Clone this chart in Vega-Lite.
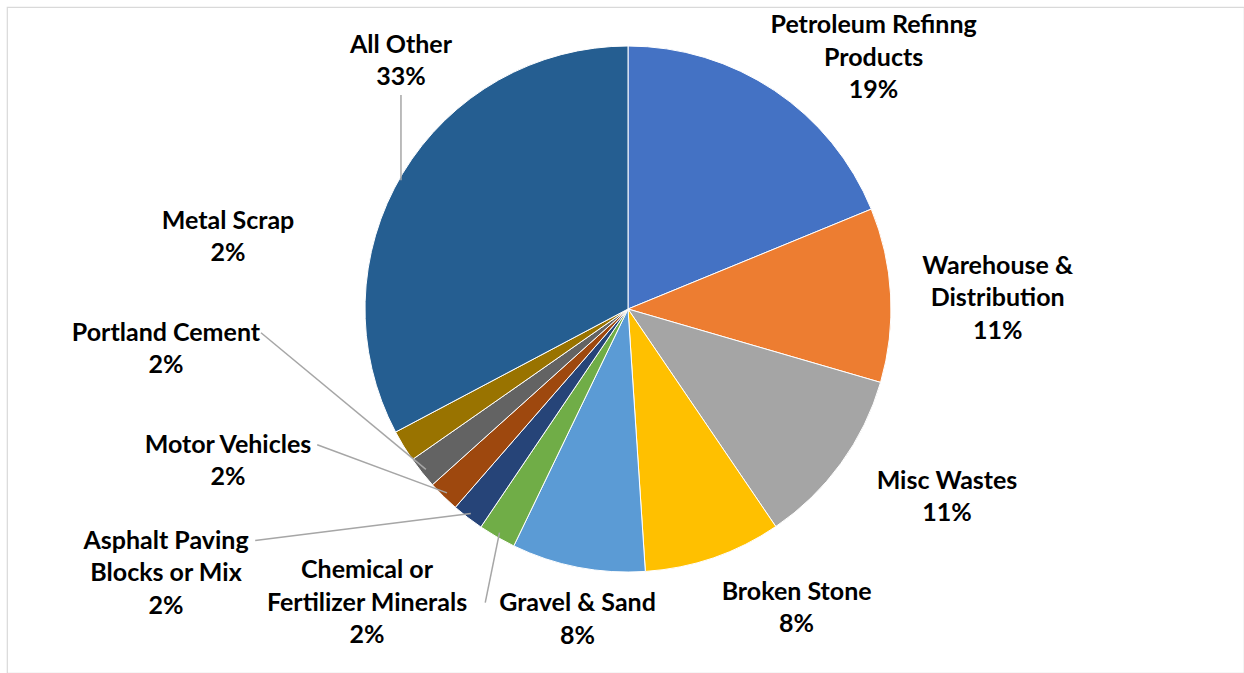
{
  "$schema": "https://vega.github.io/schema/vega-lite/v6.json",
  "width": 1244,
  "height": 673,
  "autosize": {"type": "fit", "contains": "padding"},
  "padding": {"left": 7, "top": 7, "right": 0, "bottom": 0},
  "background": "white",
  "config": {"view": {"stroke": "#d9d9d9", "strokeWidth": 1.2}, "font": "Lato"},
  "data": {
    "values": [
      {"order": 1, "category": "Petroleum Refinng Products", "lines": "Petroleum Refinng|Products", "value": 18.8},
      {"order": 2, "category": "Warehouse & Distribution", "lines": "Warehouse &|Distribution", "value": 10.7},
      {"order": 3, "category": "Misc Wastes", "lines": "Misc Wastes", "value": 11.0},
      {"order": 4, "category": "Broken Stone", "lines": "Broken Stone", "value": 8.45},
      {"order": 5, "category": "Gravel & Sand", "lines": "Gravel & Sand", "value": 8.2},
      {"order": 6, "category": "Chemical or Fertilizer Minerals", "lines": "Chemical or|Fertilizer Minerals", "value": 2.3},
      {"order": 7, "category": "Asphalt Paving Blocks or Mix", "lines": "Asphalt Paving|Blocks or Mix", "value": 1.95},
      {"order": 8, "category": "Motor Vehicles", "lines": "Motor Vehicles", "value": 1.95},
      {"order": 9, "category": "Portland Cement", "lines": "Portland Cement", "value": 1.95},
      {"order": 10, "category": "Metal Scrap", "lines": "Metal Scrap", "value": 1.95},
      {"order": 11, "category": "All Other", "lines": "All Other", "value": 32.75}
    ]
  },
  "transform": [
    {"joinaggregate": [{"op": "sum", "field": "value", "as": "total"}]},
    {"stack": "value", "groupby": [], "sort": [{"field": "order", "order": "ascending"}], "as": ["v0", "v1"]},
    {"calculate": "PI*(datum.v0+datum.v1)/datum.total", "as": "mid"},
    {"calculate": "split(datum.lines + '|' + format(datum.value/datum.total, '.0%'), '|')", "as": "txt"},
    {"calculate": "split(datum.lines, '|')", "as": "nl"},
    {"calculate": "length(datum.nl)", "as": "nn"},
    {"calculate": "datum.value/datum.total < 0.05", "as": "small"},
    {"calculate": "sin(datum.mid)", "as": "s"},
    {"calculate": "cos(datum.mid)", "as": "c"}
  ],
  "encoding": {
    "x": {"type": "quantitative", "scale": {"domain": [-621, 616]}, "axis": null},
    "y": {"type": "quantitative", "scale": {"domain": [-364, 302]}, "axis": null}
  },
  "layer": [
    {
      "mark": {"type": "arc", "outerRadius": 263, "stroke": "white", "strokeWidth": 1},
      "encoding": {
        "x": {"datum": 0, "type": "quantitative", "scale": {"domain": [-621, 616]}, "axis": null},
        "y": {"datum": 0, "type": "quantitative", "scale": {"domain": [-364, 302]}, "axis": null},
        "theta": {"field": "value", "type": "quantitative", "stack": true},
        "order": {"field": "order", "type": "quantitative"},
        "color": {
          "field": "category",
          "type": "nominal",
          "legend": null,
          "scale": {
            "domain": ["Petroleum Refinng Products", "Warehouse & Distribution", "Misc Wastes", "Broken Stone", "Gravel & Sand", "Chemical or Fertilizer Minerals", "Asphalt Paving Blocks or Mix", "Motor Vehicles", "Portland Cement", "Metal Scrap", "All Other"],
            "range": ["#4472C4", "#ED7D31", "#A5A5A5", "#FFC000", "#5B9BD5", "#70AD47", "#264478", "#9E480E", "#636363", "#997300", "#255E91"]
          }
        }
      }
    },
    {
      "transform": [
        {"filter": "datum.small"},
        {"window": [{"op": "row_number", "as": "rk"}], "sort": [{"field": "order", "order": "ascending"}]},
        {"filter": "datum.rk < 5"},
        {"calculate": "datum.nn>1 && length(datum.nl[1])>length(datum.nl[0]) ? 1 : 0", "as": "wi"},
        {"calculate": "max(length(datum.nl[0]), datum.nn>1 ? length(datum.nl[1]) : 0)*5.8", "as": "hw"},
        {"calculate": "datum.rk==1 ? 390*sin(222*PI/180) : -431 - (datum.rk%2==0 ? 31 : -31)", "as": "cx"},
        {"calculate": "datum.rk==1 ? 395*cos(222*PI/180) : -264 + 112*(datum.rk-2)", "as": "cy"},
        {"calculate": "datum.cx + datum.hw + 8", "as": "lxe"},
        {"calculate": "datum.cy + (datum.nn/2 - datum.wi)*32.5", "as": "wy"},
        {"calculate": "258*datum.s", "as": "ex"},
        {"calculate": "258*datum.c", "as": "ey"}
      ],
      "mark": {"type": "rule", "color": "#a6a6a6", "strokeWidth": 1.5},
      "encoding": {
        "x": {"field": "ex", "type": "quantitative"},
        "y": {"field": "ey", "type": "quantitative"},
        "x2": {"field": "lxe"},
        "y2": {"field": "wy"}
      }
    },
    {
      "transform": [
        {"filter": "!datum.small && datum.s < 0 && datum.c > 0"},
        {"calculate": "265*datum.s", "as": "lx"},
        {"calculate": "310*pow(datum.c,0.3) - 6 - datum.nn*16.25 - 18", "as": "ly"},
        {"calculate": "sqrt(261*261 - datum.lx*datum.lx)", "as": "ly2"}
      ],
      "mark": {"type": "rule", "color": "#a6a6a6", "strokeWidth": 1.5},
      "encoding": {
        "x": {"field": "lx", "type": "quantitative"},
        "y": {"field": "ly", "type": "quantitative"},
        "y2": {"field": "ly2"}
      }
    },
    {
      "transform": [
        {"filter": "!datum.small"},
        {"calculate": "datum.s >= 0 ? 370*pow(datum.s,0.7) : 265*datum.s", "as": "lx"},
        {"calculate": "(datum.s < 0 && datum.c > 0 ? 310*pow(datum.c,0.3) : 310*datum.c) - 6 + datum.nn*16.25", "as": "ly"}
      ],
      "mark": {"type": "text", "font": "Lato", "fontWeight": "bold", "fontSize": 25, "lineHeight": 32.5, "align": "center", "baseline": "middle", "color": "#000000"},
      "encoding": {
        "x": {"field": "lx", "type": "quantitative"},
        "y": {"field": "ly", "type": "quantitative"},
        "text": {"field": "txt"}
      }
    },
    {
      "transform": [
        {"filter": "datum.small"},
        {"window": [{"op": "row_number", "as": "rk"}], "sort": [{"field": "order", "order": "ascending"}]},
        {"calculate": "datum.rk==1 ? 390*sin(222*PI/180) : -431 - (datum.rk%2==0 ? 31 : -31)", "as": "lx"},
        {"calculate": "(datum.rk==1 ? 395*cos(222*PI/180) : -264 + 112*(datum.rk-2)) + datum.nn*16.25", "as": "ly"}
      ],
      "mark": {"type": "text", "font": "Lato", "fontWeight": "bold", "fontSize": 25, "lineHeight": 32.5, "align": "center", "baseline": "middle", "color": "#000000"},
      "encoding": {
        "x": {"field": "lx", "type": "quantitative"},
        "y": {"field": "ly", "type": "quantitative"},
        "text": {"field": "txt"}
      }
    }
  ]
}
